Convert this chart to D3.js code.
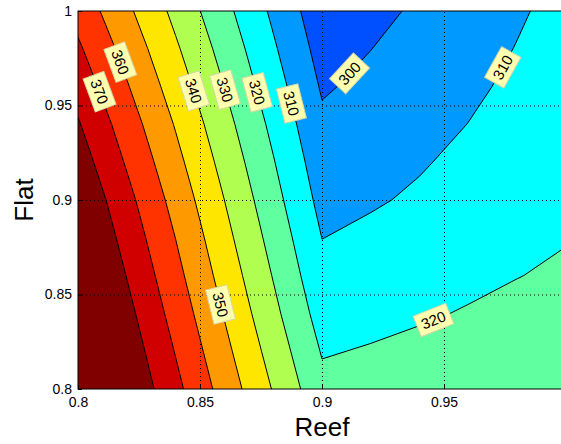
<!DOCTYPE html>
<html>
<head>
<meta charset="utf-8">
<script src="https://cdn.jsdelivr.net/npm/d3@7"></script>
<style>
body { margin: 0; background: #fff; }
text { font-family: "Liberation Sans", Arial, sans-serif; }
</style>
</head>
<body>
<svg width="561" height="444"></svg>
<script>
// grid of the surface: columns = Reef, rows = Flat (bottom row first)
var reef = [0.80, 0.82, 0.84, 0.86, 0.88, 0.90, 0.92, 0.94, 0.96, 0.98, 1.00];
var flat = [0.80, 0.82, 0.84, 0.86, 0.88, 0.90, 0.92, 0.94, 0.96, 0.98, 1.00];
var z = [
  [406.0, 389.3, 372.7, 356.0, 339.4, 322.7, 324.1, 325.4, 326.7, 328.0, 329.3],
  [402.9, 386.2, 369.5, 352.7, 336.0, 319.3, 320.7, 322.1, 323.6, 325.0, 326.4],
  [399.8, 383.0, 366.2, 349.4, 332.6, 315.8, 317.3, 319.0, 320.6, 322.2, 323.8],
  [396.5, 379.7, 363.0, 346.2, 329.5, 312.7, 314.4, 316.2, 318.1, 319.8, 321.3],
  [393.0, 376.4, 359.9, 343.1, 326.5, 309.9, 311.8, 313.7, 315.7, 317.7, 319.6],
  [389.5, 373.0, 356.5, 340.0, 323.5, 307.0, 309.1, 311.2, 313.4, 315.8, 318.4],
  [385.2, 369.0, 352.9, 336.7, 320.6, 304.4, 306.9, 309.3, 311.9, 314.5, 317.0],
  [380.9, 365.1, 349.3, 333.4, 317.6, 301.8, 304.6, 307.4, 310.1, 312.9, 315.6],
  [376.2, 360.8, 345.3, 329.9, 314.4, 299.0, 302.2, 305.3, 308.5, 311.6, 314.6],
  [371.5, 356.5, 341.4, 326.4, 311.3, 296.3, 299.9, 303.4, 306.8, 310.3, 313.7],
  [366.6, 352.0, 337.4, 322.8, 308.2, 293.6, 297.5, 301.4, 305.2, 309.0, 312.7]
];
var levels = [300, 310, 320, 330, 340, 350, 360, 370, 380];
var colors = ['#0050ff', '#0099ff', '#00ffff', '#60ffa0', '#b0ff50',
              '#ffe600', '#ff9900', '#ff3300', '#d00000', '#800000'];
var xTicks = [0.8, 0.85, 0.9, 0.95];
var yTicks = [0.8, 0.85, 0.9, 0.95, 1];
// where the contour labels sit (Reef, Flat)
var labelSpots = [
  {level: 370, reef: 0.8078, flat: 0.9568},
  {level: 360, reef: 0.8168, flat: 0.9727},
  {level: 340, reef: 0.8467, flat: 0.9574},
  {level: 330, reef: 0.8590, flat: 0.9579},
  {level: 320, reef: 0.8730, flat: 0.9568},
  {level: 310, reef: 0.8873, flat: 0.9510},
  {level: 300, reef: 0.9123, flat: 0.9658},
  {level: 310, reef: 0.9742, flat: 0.9701},
  {level: 320, reef: 0.9463, flat: 0.8345},
  {level: 350, reef: 0.8582, flat: 0.8446}
];

var pL = 78, pR = 566, pT = 11, pB = 389;
var svg = d3.select('svg');

var x = d3.scaleLinear().domain([0.8, 1.0]).range([pL, pR]);
var y = d3.scaleLinear().domain([0.8, 1.0]).range([pB, pT]);

var nx = reef.length, ny = flat.length;
var values = [];
for (var j = 0; j < ny; j++)
  for (var i = 0; i < nx; i++) values.push(z[j][i]);

// contour grid units -> data units (grid value i sits at i + 0.5)
var gx = d3.scaleLinear().domain([0.5, nx - 0.5]).range([reef[0], reef[nx - 1]]);
var gy = d3.scaleLinear().domain([0.5, ny - 0.5]).range([flat[0], flat[ny - 1]]);
var proj = d3.geoTransform({
  point: function(a, b) { this.stream.point(x(gx(a)), y(gy(b))); }
});
var path = d3.geoPath(proj);

var contours = d3.contours().size([nx, ny]).thresholds(levels)(values);

svg.append('clipPath').attr('id', 'plot')
  .append('rect')
  .attr('x', pL).attr('y', pT)
  .attr('width', pR - pL).attr('height', pB - pT);

var plot = svg.append('g').attr('clip-path', 'url(#plot)');

plot.append('rect')
  .attr('x', pL).attr('y', pT)
  .attr('width', pR - pL).attr('height', pB - pT)
  .attr('fill', colors[0]);

plot.selectAll('path.band')
  .data(contours)
  .enter()
  .append('path')
  .attr('class', 'band')
  .attr('d', path)
  .attr('fill', function(d, i) { return colors[i + 1]; });

plot.selectAll('path.line')
  .data(contours)
  .enter()
  .append('path')
  .attr('class', 'line')
  .attr('d', path)
  .attr('fill', 'none')
  .attr('stroke', '#000')
  .attr('stroke-width', 1);

// dotted grid
svg.append('g')
  .attr('transform', 'translate(0,' + pB + ')')
  .call(d3.axisBottom(x).tickValues([0.85, 0.9, 0.95]).tickSize(-(pB - pT)).tickFormat(''))
  .call(function(g) {
    g.select('.domain').remove();
    g.selectAll('line').attr('stroke', '#000').attr('stroke-dasharray', '1,3');
  });
svg.append('g')
  .attr('transform', 'translate(' + pL + ',0)')
  .call(d3.axisLeft(y).tickValues([0.85, 0.9, 0.95]).tickSize(-(pR - pL)).tickFormat(''))
  .call(function(g) {
    g.select('.domain').remove();
    g.selectAll('line').attr('stroke', '#000').attr('stroke-dasharray', '1,3');
  });

// contour labels
labelSpots.forEach(function(spot) {
  var c = contours[levels.indexOf(spot.level)];
  var px = x(spot.reef), py = y(spot.flat);
  var best = null;
  c.coordinates.forEach(function(poly) {
    poly.forEach(function(ring) {
      var pts = ring.map(function(p) { return [x(gx(p[0])), y(gy(p[1]))]; });
      for (var k = 1; k < pts.length; k++) {
        var a = pts[k - 1], b = pts[k];
        var dx = b[0] - a[0], dy = b[1] - a[1], L = dx * dx + dy * dy;
        if (!L) continue;
        var t = Math.max(0, Math.min(1, ((px - a[0]) * dx + (py - a[1]) * dy) / L));
        var qx = a[0] + t * dx, qy = a[1] + t * dy;
        var d = (qx - px) * (qx - px) + (qy - py) * (qy - py);
        if (!best || d < best.d) best = {d: d, x: qx, y: qy, ang: Math.atan2(dy, dx) * 180 / Math.PI};
      }
    });
  });
  if (!best) return;
  var ang = best.ang;
  if (ang > 90) ang -= 180;
  if (ang <= -90) ang += 180;
  var g = svg.append('g')
    .attr('transform', 'translate(' + best.x + ',' + best.y + ') rotate(' + ang + ')');
  var txt = g.append('text')
    .attr('text-anchor', 'middle')
    .attr('dy', '0.36em')
    .attr('font-size', 15)
    .attr('fill', '#000')
    .text(spot.level);
  var w = txt.node().getComputedTextLength() + 10;
  g.insert('rect', 'text')
    .attr('x', -w / 2).attr('y', -11)
    .attr('width', w).attr('height', 22)
    .attr('fill', '#ffffb0')
    .attr('stroke', '#d6d6a8')
    .attr('stroke-width', 1);
});

// axes box and tick labels
svg.append('rect')
  .attr('x', pL).attr('y', pT)
  .attr('width', pR - pL).attr('height', pB - pT)
  .attr('fill', 'none').attr('stroke', '#000').attr('stroke-width', 1);

svg.append('g')
  .attr('transform', 'translate(0,' + pB + ')')
  .call(d3.axisBottom(x).tickValues(xTicks).tickSizeInner(-4).tickSizeOuter(0).tickPadding(8).tickFormat(d3.format('')))
  .call(function(g) {
    g.select('.domain').remove();
    g.selectAll('line').attr('stroke', '#000');
    g.selectAll('text').attr('font-size', 14).attr('fill', '#000').attr('font-family', null);
  });
svg.append('g')
  .attr('transform', 'translate(' + pL + ',0)')
  .call(d3.axisLeft(y).tickValues(yTicks).tickSizeInner(-4).tickSizeOuter(0).tickPadding(6).tickFormat(d3.format('')))
  .call(function(g) {
    g.select('.domain').remove();
    g.selectAll('line').attr('stroke', '#000');
    g.selectAll('text').attr('font-size', 14).attr('fill', '#000').attr('font-family', null);
  });

svg.append('text')
  .attr('x', (pL + pR) / 2).attr('y', 436)
  .attr('text-anchor', 'middle')
  .attr('font-size', 26)
  .text('Reef');
svg.append('text')
  .attr('transform', 'translate(33,' + (pT + pB) / 2 + ') rotate(-90)')
  .attr('text-anchor', 'middle')
  .attr('font-size', 26)
  .text('Flat');
</script>
</body>
</html>
